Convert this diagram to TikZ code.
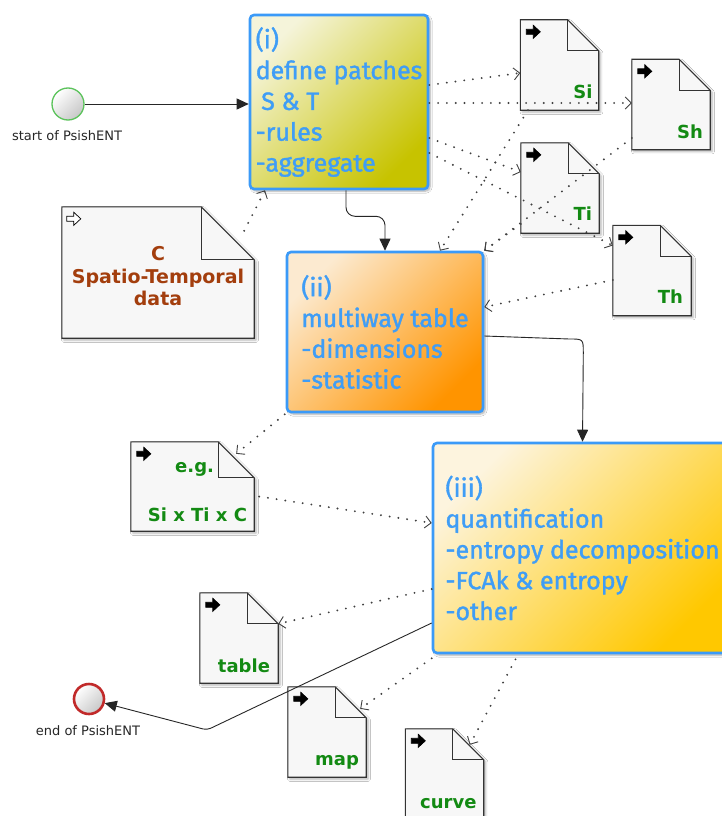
\documentclass[tikz,border=0pt]{standalone}
\usepackage{fontspec}
\setmainfont{Fira Sans}
\newfontfamily\boxfont{Fira Sans}[FakeBold=1.4]
\newfontfamily\dejavu{DejaVu Sans}
\usetikzlibrary{arrows.meta,shadows.blur,calc}

\definecolor{boxblue}{HTML}{3B9AF8}
\definecolor{txtblue}{HTML}{3F9DF6}
\definecolor{oliveA}{HTML}{F5F4DA}
\definecolor{oliveB}{HTML}{C7C300}
\definecolor{orangeA}{HTML}{FCEAD0}
\definecolor{orangeB}{HTML}{FF9400}
\definecolor{goldA}{HTML}{FDF4DE}
\definecolor{goldB}{HTML}{FFC800}
\definecolor{docfill}{HTML}{F7F7F7}
\definecolor{docline}{HTML}{333333}
\definecolor{docgreen}{HTML}{138A13}
\definecolor{docbrown}{HTML}{A33E0D}
\definecolor{evgreen}{HTML}{5BC35B}
\definecolor{evred}{HTML}{C12A2A}

\tikzset{
  proc/.style={draw=boxblue, line width=2.6pt, rounded corners=4pt, inner sep=0pt,
    align=left, text=txtblue, font=\boxfont\fontsize{25}{30.8}\selectfont,
    blur shadow={shadow xshift=2pt, shadow yshift=-2pt, shadow blur steps=6, shadow opacity=35}},
  docbox/.style={draw=none, inner sep=0pt, minimum width=78pt, minimum height=90pt},
  docshape/.style={fill=docfill, draw=docline, line width=1.1pt, line join=miter,
    blur shadow={shadow xshift=2pt, shadow yshift=-2pt, shadow blur steps=5, shadow opacity=30}},
  docfold/.style={draw=docline, line width=1.1pt},
  doclab/.style={inner sep=0pt, text=docgreen, font=\dejavu\bfseries\fontsize{18}{21}\selectfont},
  doclabC/.style={inner sep=0pt, text=docbrown, align=center, font=\dejavu\bfseries\fontsize{19}{22.5}\selectfont},
  evlab/.style={inner sep=0pt, text=black!85, font=\dejavu\fontsize{13}{15}\selectfont},
  startev/.style={circle, minimum size=32pt, inner sep=0pt, draw=evgreen, line width=1.3pt,
    top color=white, bottom color=black!22, shading angle=45},
  endev/.style={circle, minimum size=30pt, inner sep=0pt, draw=evred, line width=2.6pt,
    top color=white, bottom color=black!22, shading angle=45},
  flow/.style={draw=black!85, line width=0.9pt, -{Triangle[length=12pt,width=11pt]}},
  assoc/.style={draw=black!75, line width=2.1pt, line cap=round, dash pattern=on 0pt off 8.8pt,
    -{Straight Barb[length=6pt,width=12pt,line width=0.9pt]}},
  pics/docicon/.style={code={
    \filldraw[draw=black, fill=#1, line width=0.7pt, line join=miter]
      (-7,-2.5) -- (0,-2.5) -- (0,-6.5) -- (7,0) -- (0,6.5) -- (0,2.5) -- (-7,2.5) -- cycle;}}
}

\newcommand\docoutline[2]{%
  \filldraw[docshape] (#1.north west) -- ([xshift=-#2]#1.north east) -- ([yshift=-#2]#1.north east)
     -- (#1.south east) -- (#1.south west) -- cycle;
  \draw[docfold] ([xshift=-#2]#1.north east) |- ([yshift=-#2]#1.north east);
}

\begin{document}
\begin{tikzpicture}[x=1pt,y=-1pt]
\useasboundingbox (0,0) rectangle (722,816);
\fill[white] (0,0) rectangle (722,816);

% events
\node[startev] (start) at (68,104) {};
\node[evlab] (startL) at (67,136) {start of PsishENT};
\node[endev] (endev) at (89,699) {};
\node[evlab] (endL) at (88,731) {end of PsishENT};

% process boxes
\node[proc, minimum width=178pt, minimum height=174pt,
      top color=oliveA, bottom color=oliveB, shading angle=45] (p1) at (339,102)
  {(i)\\define patches\\\hspace*{0.22em}S \& T\\-rules\\-aggregate};
\node[proc, minimum width=196pt, minimum height=160pt,
      top color=orangeA, bottom color=orangeB, shading angle=45] (p2) at (385,332)
  {(ii)\\multiway table\\-dimensions\\-statistic};
\node[proc, minimum width=299pt, minimum height=210pt,
      top color=goldA, bottom color=goldB, shading angle=45] (p3) at (582.5,548)
  {(iii)\\quantification\\-entropy decomposition\\-FCAk \& entropy\\-other};

% documents
\node[docbox] (si) at (559.5,65) {};
\node[docbox] (sh) at (671,104.5) {};
\node[docbox] (ti) at (560,188) {};
\node[docbox] (th) at (652,270.5) {};
\node[docbox, minimum width=192pt, minimum height=131pt] (cdoc) at (158,272.5) {};
\node[docbox, minimum width=123pt, minimum height=89pt] (eg) at (192.5,486.5) {};
\node[docbox] (tbl) at (239,638) {};
\node[docbox] (map) at (327,732) {};
\node[docbox] (crv) at (444.5,774) {};

\docoutline{si}{31pt}
\docoutline{sh}{31pt}
\docoutline{ti}{31pt}
\docoutline{th}{31pt}
\docoutline{cdoc}{53pt}
\docoutline{eg}{36pt}
\docoutline{tbl}{31pt}
\docoutline{map}{31pt}
\docoutline{crv}{31pt}

\foreach \d in {si,sh,ti,th,eg,tbl,map,crv}
  \pic at ([shift={(13,12)}]\d.north west) {docicon=black};
\pic at ([shift={(12,12)}]cdoc.north west) {docicon=white};

\node[doclab, anchor=base east] (siL) at ([shift={(-6,-12)}]si.south east) {Si};
\node[doclab, anchor=base east] (shL) at ([shift={(-7,-11)}]sh.south east) {Sh};
\node[doclab, anchor=base east] (tiL) at ([shift={(-7,-13)}]ti.south east) {Ti};
\node[doclab, anchor=base east] (thL) at ([shift={(-8,-12)}]th.south east) {Th};
\node[doclab, anchor=base east] (tblL) at ([shift={(-8,-11)}]tbl.south east) {table};
\node[doclab, anchor=base east] (mapL) at ([shift={(-7,-12)}]map.south east) {map};
\node[doclab, anchor=base east] (crvL) at ([shift={(-7,-11)}]crv.south east) {curve};
\node[doclab, anchor=base east] (egL1) at ([shift={(-40,31)}]eg.north east) {e.g.};
\node[doclab, anchor=base east] (egL2) at ([shift={(-7,-10)}]eg.south east) {Si x Ti x C};
\node[doclabC] (cL) at ([shift={(0,4)}]cdoc.center) {C\\Spatio-Temporal\\data};

% sequence flows
\draw[flow] (start.east) -- (start.east -| p1.west);
\draw[flow, rounded corners=9pt] ([xshift=7pt]p1.south) -- ++(0,26) -| (p2.north);
\draw[flow] ([yshift=-4pt]p2.east) -- ++(85,3) .. controls +(14,0) .. ++(14,14) -- (p3.north);
\coordinate (bend1) at (207,730);
\draw[flow, rounded corners=4pt] ([shift={(0,75)}]p3.west) -- (bend1) -- (endev);

% data associations
\draw[assoc] ([shift={(0,-17)}]p1.east) -- ([shift={(0,8)}]si.west);
\draw[assoc] ([shift={(0,1)}]p1.east) -- ([shift={(0,-1.5)}]sh.west);
\draw[assoc] ([shift={(0,36)}]p1.east) -- ([shift={(0,-16)}]ti.west);
\draw[assoc] ([shift={(0,51)}]p1.east) -- ([shift={(0,-25)}]th.west);
\draw[assoc] ([shift={(-31.5,0)}]si.south) -- ([shift={(55,0)}]p2.north);
\draw[assoc] ([shift={(0,33.5)}]sh.west) -- (p2.north east);
\draw[assoc] ([shift={(0,36)}]ti.west) -- (p2.north east);
\draw[assoc] ([shift={(0,9.5)}]th.west) -- ([shift={(0,-25)}]p2.east);
\draw[assoc] ([shift={(-10,24)}]cdoc.north east) -- ([shift={(-74,0)}]p1.south);
\draw[assoc] ([shift={(-1,1)}]p2.south west) -- ([shift={(-18,12)}]eg.north east);
\draw[assoc] ([shift={(5,10)}]eg.east) -- ([shift={(0,-25)}]p3.west);
\draw[assoc] ([shift={(0,41)}]p3.west) -- ([shift={(0,31)}]tbl.north east);
\draw[assoc] ([shift={(0,4)}]p3.south west) -- ([shift={(-6,22)}]map.north east);
\draw[assoc] ([shift={(-67,5)}]p3.south) -- ([shift={(-14,16)}]crv.north east);
\end{tikzpicture}
\end{document}
